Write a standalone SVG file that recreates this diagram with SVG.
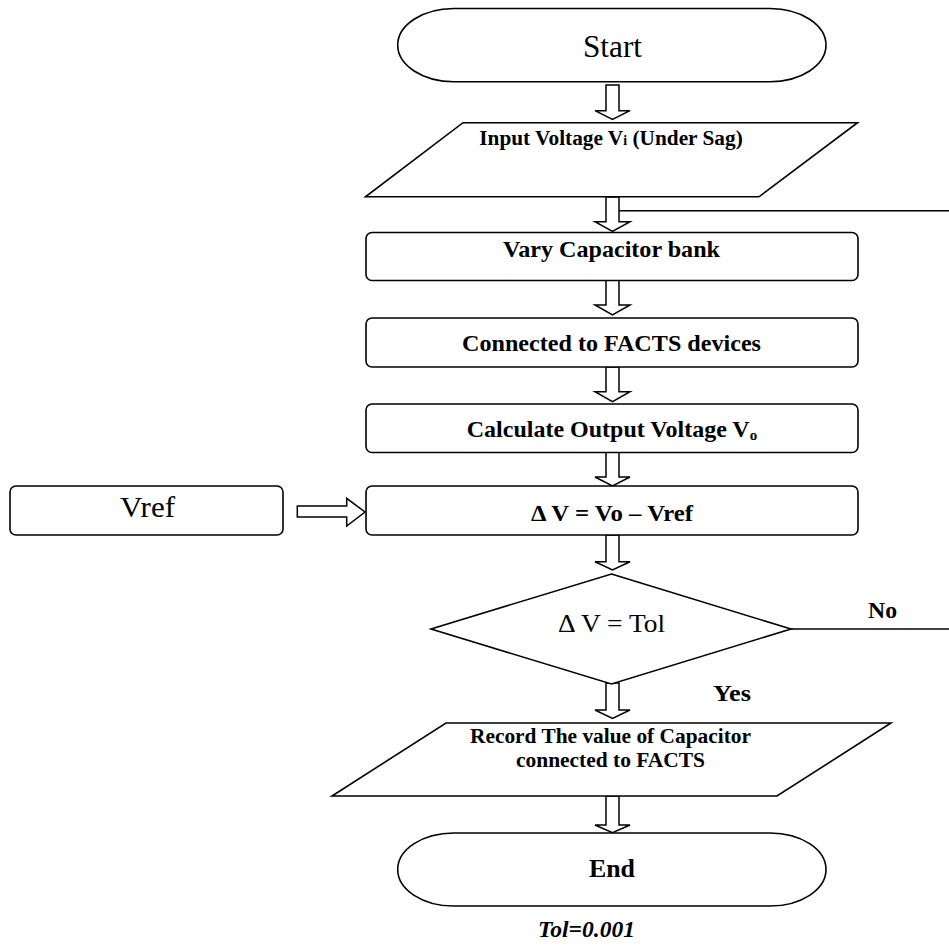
<svg xmlns="http://www.w3.org/2000/svg" width="949" height="945" viewBox="0 0 949 945" font-family="'Liberation Serif', 'Times New Roman', 'DejaVu Serif', serif">
<style>
  .shape{fill:#fff;stroke:#000;stroke-width:1.6;}
  .line{fill:none;stroke:#000;stroke-width:1.6;}
  .barrow{fill:#fff;stroke:#000;stroke-width:1.5;stroke-linejoin:miter;}
  text{font-family:'Liberation Serif','Times New Roman','DejaVu Serif',serif;fill:#000;}
  .b{font-weight:bold;}
  .c{text-anchor:middle;}
</style>
<rect width="949" height="945" fill="#fff"/>
<g id="connectors">
  <path class="barrow" d="M606 85 V110.7 H595 L612.5 119.3 L630 110.7 H619 V85 Z"/>
  <path class="barrow" d="M606 197 V221.7 H595 L612.5 231.5 L630 221.7 H619 V197 Z"/>
  <path class="line" d="M619 210.7 H949"/>
  <path class="barrow" d="M606 280 V305 H595 L612.5 315 L630 305 H619 V280 Z"/>
  <path class="barrow" d="M606 367 V391.7 H595 L612.5 401.7 L630 391.7 H619 V367 Z"/>
  <path class="barrow" d="M606 452 V477 H595 L612.5 486 L630 477 H619 V452 Z"/>
  <path class="barrow" d="M297.3 506 H346.7 V498.3 L365 512 L346.7 526 V517 H297.3 Z"/>
  <path class="barrow" d="M606 535 V561.7 H595 L612.5 570 L630 561.7 H619 V535 Z"/>
  <path class="line" d="M791 629 H949"/>
  <text class="b" x="868" y="618" font-size="23" textLength="29" lengthAdjust="spacingAndGlyphs">No</text>
  <path class="barrow" d="M606 683 V710 H595 L612.5 718.5 L630 710 H619 V683 Z"/>
  <text class="b" x="713" y="701" font-size="24" textLength="38" lengthAdjust="spacingAndGlyphs">Yes</text>
  <path class="barrow" d="M606 796 V825 H595 L612.5 832.8 L630 825 H619 V796 Z"/>
</g>
<g id="start">
  <path class="shape" d="M453.7 8.5 H770 A56 36.6 0 0 1 770 81.7 H453.7 A56 36.6 0 0 1 453.7 8.5 Z"/>
  <text x="583" y="56.7" font-size="31" textLength="59" lengthAdjust="spacingAndGlyphs">Start</text>
</g>
<g id="input">
  <path class="shape" d="M463 122.7 H857.5 L759 196.8 H365.5 Z"/>
  <text class="b c" x="611" y="145" font-size="21.3">Input Voltage V<tspan font-size="14">i</tspan> (Under Sag)</text>
</g>
<g id="vary">
  <rect class="shape" x="366" y="232.5" width="492" height="48" rx="6"/>
  <text class="b" x="503" y="256.5" font-size="24" textLength="217" lengthAdjust="spacingAndGlyphs">Vary Capacitor bank</text>
</g>
<g id="connected">
  <rect class="shape" x="366" y="318" width="492" height="49" rx="6"/>
  <text class="b" x="462" y="351" font-size="24" textLength="299" lengthAdjust="spacingAndGlyphs">Connected to FACTS devices</text>
</g>
<g id="calculate">
  <rect class="shape" x="366" y="404" width="492" height="48.5" rx="6"/>
  <text class="b c" x="612" y="437" font-size="24">Calculate Output Voltage V<tspan font-size="15" dy="3">o</tspan></text>
</g>
<g id="vref">
  <rect class="shape" x="10" y="486" width="273" height="49" rx="6"/>
  <text x="120" y="516.7" font-size="30" textLength="55" lengthAdjust="spacingAndGlyphs">Vref</text>
</g>
<g id="deltav">
  <rect class="shape" x="366" y="486" width="492" height="49" rx="6"/>
  <text class="b" x="531" y="520.5" font-size="22.5" textLength="162" lengthAdjust="spacingAndGlyphs">Δ V = Vo – Vref</text>
</g>
<g id="decision">
  <path class="shape" d="M611.5 574 L791 629 L611.5 684 L431 629 Z"/>
  <text x="558" y="631.7" font-size="26" textLength="107" lengthAdjust="spacingAndGlyphs">Δ V = Tol</text>
</g>
<g id="record">
  <path class="shape" d="M446 723 H891 L777 796 H332 Z"/>
  <text class="b" x="470" y="743.3" font-size="21.3" textLength="281" lengthAdjust="spacingAndGlyphs">Record The value of Capacitor</text>
  <text class="b" x="516" y="767.3" font-size="21.3" textLength="189" lengthAdjust="spacingAndGlyphs">connected to FACTS</text>
</g>
<g id="end">
  <path class="shape" d="M453.7 833 H770 A56 36.5 0 0 1 770 906 H453.7 A56 36.5 0 0 1 453.7 833 Z"/>
  <text class="b" x="589" y="876.7" font-size="26" textLength="46" lengthAdjust="spacingAndGlyphs">End</text>
</g>
<text class="b" x="538" y="937.3" font-size="23" font-style="italic" textLength="97" lengthAdjust="spacingAndGlyphs">Tol=0.001</text>
</svg>
